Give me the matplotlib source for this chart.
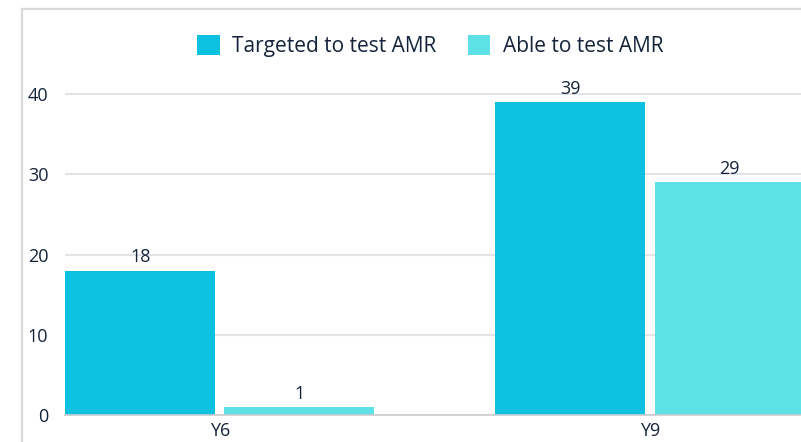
import matplotlib.pyplot as plt
import numpy as np

categories = ['Y6', 'Y9']
targeted = [18, 39]
able = [1, 29]
series_names = ['Targeted to test AMR', 'Able to test AMR']
colors = ['#0ec1e0', '#5de1e6']
text_color = '#14233a'


def main():
    plt.rcParams['font.family'] = ['Open Sans', 'DejaVu Sans']
    fig = plt.figure(figsize=(8.01, 4.42), dpi=100)
    ax = fig.add_axes([65 / 801, 1 - 415 / 442, 1 - 65 / 801, (415 - 60) / 442])

    x = np.arange(len(categories))
    w = 0.349
    gap = 0.0105
    b1 = ax.bar(x - w / 2 - gap, targeted, w, color=colors[0], label=series_names[0], zorder=3)
    b2 = ax.bar(x + w / 2 + gap, able, w, color=colors[1], label=series_names[1], zorder=3)
    for bars in (b1, b2):
        ax.bar_label(bars, padding=3, fontsize=13, color=text_color)

    ax.set_xlim(-0.36, 1.351)
    ax.set_ylim(0, 40 + 34 / 8.025)
    ax.set_yticks([0, 10, 20, 30, 40])
    ax.set_xticks(x)
    ax.set_xticklabels(categories)
    ax.tick_params(axis='both', length=0, labelsize=13, colors=text_color)
    ax.tick_params(axis='y', pad=12)
    ax.tick_params(axis='x', pad=5)
    ax.grid(axis='y', color='#e1e3e6', linewidth=1.5, zorder=0)
    for s in ('top', 'right', 'left'):
        ax.spines[s].set_visible(False)
    ax.spines['bottom'].set_color('#c9cbcf')
    ax.spines['bottom'].set_linewidth(1.2)
    ax.spines['bottom'].set_zorder(4)

    fig.legend(loc='center', bbox_to_anchor=(430 / 801, 1 - 46 / 442), ncol=2,
               frameon=False, fontsize=15, handlelength=1.1, handleheight=1.1,
               columnspacing=1.5, handletextpad=0.6, labelcolor=text_color)

    # card border
    fig.add_artist(plt.Line2D([22 / 801, 22 / 801], [0, 1 - 8.5 / 442],
                              transform=fig.transFigure, color='#d9d9d9', linewidth=1.6))
    fig.add_artist(plt.Line2D([22 / 801, 1], [1 - 8.5 / 442, 1 - 8.5 / 442],
                              transform=fig.transFigure, color='#d9d9d9', linewidth=1.6))

    fig.savefig('out.png', dpi=100)


if __name__ == '__main__':
    main()
